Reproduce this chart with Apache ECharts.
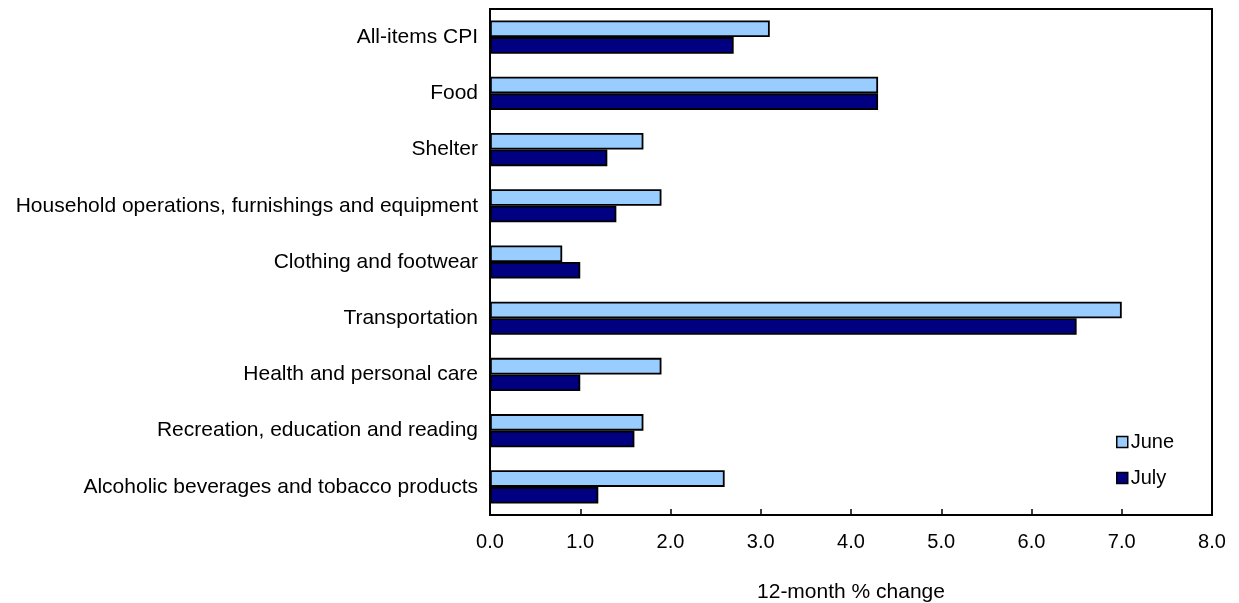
<!DOCTYPE html>
<html>
<head>
<meta charset="utf-8">
<script src="https://cdn.jsdelivr.net/npm/echarts@6/dist/echarts.min.js"></script>
<style>html,body{margin:0;padding:0;background:#fff}#c{width:1239px;height:603px}</style>
</head>
<body>
<div id="c"></div>
<script>
var categories = ["All-items CPI","Food","Shelter","Household operations, furnishings and equipment","Clothing and footwear","Transportation","Health and personal care","Recreation, education and reading","Alcoholic beverages and tobacco products"];
var june = [3.1, 4.3, 1.7, 1.9, 0.8, 7.0, 1.9, 1.7, 2.6];
var july = [2.7, 4.3, 1.3, 1.4, 1.0, 6.5, 1.0, 1.6, 1.2];
var xTicks = ["0.0","1.0","2.0","3.0","4.0","5.0","6.0","7.0","8.0"];

var font = "'Liberation Sans', Arial, Helvetica, sans-serif";
var chart = echarts.init(document.getElementById('c'), null, {renderer:'canvas'});
chart.setOption({
  animation: false,
  textStyle: {fontFamily: font},
  grid: {left: 490, right: 27, top: 9, bottom: 88, show: true, borderColor: '#000', borderWidth: 2, containLabel: false, outerBoundsMode: 'none'},
  legend: {
    orient: 'vertical', left: 1111, top: 427, itemGap: 16,
    itemWidth: 11, itemHeight: 11, icon: 'rect',
    textStyle: {fontFamily: font, fontSize: 20, lineHeight: 20, color: '#000', padding: [0,0,0,-2]},
    itemStyle: {borderColor: '#000', borderWidth: 1.5},
    data: ['June','July']
  },
  xAxis: {
    type: 'value', min: 0, max: 8, interval: 1,
    name: '12-month % change', nameLocation: 'middle', nameGap: 67,
    nameTextStyle: {fontFamily: font, fontSize: 21, color: '#000'},
    axisLine: {show: true, lineStyle: {color: '#000', width: 2}},
    axisTick: {show: true, inside: true, length: 6, lineStyle: {color: '#000', width: 1.5}},
    axisLabel: {fontFamily: font, fontSize: 20, color: '#000', margin: 17, formatter: function(v){ return xTicks[Math.round(v)]; }},
    splitLine: {show: false}
  },
  yAxis: {
    type: 'category', data: categories, inverse: true,
    axisLine: {show: true, lineStyle: {color: '#000', width: 2}},
    axisTick: {show: false},
    axisLabel: {fontFamily: font, fontSize: 21, color: '#000', margin: 12}
  },
  series: [
    {name: 'June', type: 'bar', data: june, barCategoryGap: '41%', barGap: '0%',
     itemStyle: {color: '#99ccff', borderColor: '#000', borderWidth: 1.8}},
    {name: 'July', type: 'bar', data: july, barCategoryGap: '41%', barGap: '0%',
     itemStyle: {color: '#000080', borderColor: '#000', borderWidth: 1.8}}
  ]
});
</script>
</body>
</html>
